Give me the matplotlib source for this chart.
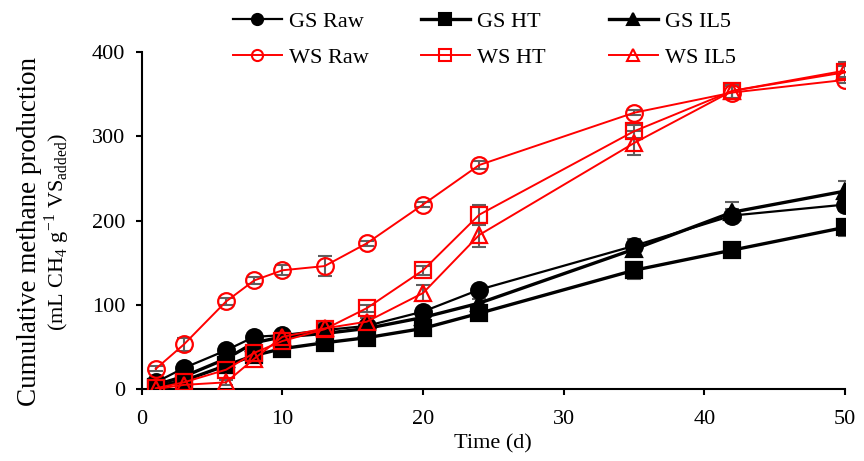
import numpy as np
import matplotlib.pyplot as plt

plt.rcParams["font.family"] = ["Liberation Serif", "DejaVu Serif"]
plt.rcParams["mathtext.fontset"] = "custom"
plt.rcParams["mathtext.rm"] = "Liberation Serif"

# time points (d)
days = [1, 3, 6, 8, 10, 13, 16, 20, 24, 35, 42, 50]

# cumulative methane (mL CH4 / g VS added) and std
gs_raw = [8, 25, 46, 62, 64, 70, 75, 92, 118, 170, 206, 219]
gs_raw_err = [3, 3, 3, 3, 3, 4, 3, 4, 4, 8, 8, 8]
gs_ht = [3, 10, 28, 40, 48, 55, 61, 72, 90, 141, 165, 192]
gs_ht_err = [3, 3, 3, 3, 3, 3, 3, 4, 5, 10, 6, 10]
gs_il5 = [5, 15, 36, 55, 62, 66, 72, 85, 102, 166, 210, 235]
gs_il5_err = [3, 3, 3, 3, 3, 12, 3, 4, 5, 8, 12, 12]

ws_raw = [24, 53, 104, 129, 141, 146, 173, 219, 266, 328, 352, 367]
ws_raw_err = [3, 8, 4, 4, 6, 12, 3, 3, 5, 3, 8, 4]
ws_ht = [1, 8, 23, 43, 57, 71, 96, 141, 207, 306, 354, 376]
ws_ht_err = [3, 3, 4, 4, 4, 4, 4, 5, 12, 8, 8, 8]
ws_il5 = [0, 5, 8, 36, 62, 72, 80, 114, 183, 292, 354, 378]
ws_il5_err = [2, 2, 3, 4, 4, 4, 4, 10, 14, 14, 8, 10]

series = [
    ("GS Raw", gs_raw, gs_raw_err, "o", "black", True, 1.6),
    ("GS HT", gs_ht, gs_ht_err, "s", "black", True, 2.4),
    ("GS IL5", gs_il5, gs_il5_err, "^", "black", True, 2.4),
    ("WS Raw", ws_raw, ws_raw_err, "o", "red", False, 1.4),
    ("WS HT", ws_ht, ws_ht_err, "s", "red", False, 1.4),
    ("WS IL5", ws_il5, ws_il5_err, "^", "red", False, 1.4),
]

fig = plt.figure(figsize=(8.64, 4.61), dpi=100)
ax = fig.add_axes([0.164, 0.156, 0.814, 0.731])

handles = []
for label, y, err, mk, col, filled, lw in series:
    ax.errorbar(days, y, yerr=err, fmt="none", ecolor="#5f5f5f",
                elinewidth=1.5, capsize=5, capthick=1.5, zorder=2)
    ax.plot(days, y, color=col, lw=lw, marker=mk, ms=12,
            mfc=col if filled else "none", mec=col, mew=1.6, zorder=3)
    h, = ax.plot([], [], color=col, lw=lw, marker=mk, ms=8,
                 mfc=col if filled else "none", mec=col, mew=1.5)
    handles.append((h, label))

ax.set_xlim(0, 50)
ax.set_ylim(0, 400)
ax.set_xticks([0, 10, 20, 30, 40, 50])
ax.set_yticks([0, 100, 200, 300, 400])
ax.spines["top"].set_visible(False)
ax.spines["right"].set_visible(False)
ax.spines["left"].set_linewidth(1.5)
ax.spines["bottom"].set_linewidth(1.5)
ax.tick_params(direction="out", length=4, width=1.5, labelsize=16)
ax.tick_params(axis="x", pad=11)
ax.tick_params(axis="y", pad=8)
ax.set_xlabel("Time (d)", fontsize=16, labelpad=4)

fig.text(30 / 864, 0.497, "Cumulative methane production", rotation=90,
         ha="center", va="center", fontsize=19.5)
fig.text(57 / 864, 0.497, r"(mL CH$_4$ g$^{-1}$ VS$_{\mathrm{added}}$)",
         rotation=90, ha="center", va="center", fontsize=16)

# legend: three columns, GS on top row, WS below
col_x = [233, 421, 609]
for c in range(3):
    pair = [handles[c], handles[c + 3]]
    fig.legend([p[0] for p in pair], [p[1] for p in pair],
               loc="upper left", bbox_to_anchor=(col_x[c] / 864, 0.976),
               frameon=False, fontsize=16, handlelength=2.2,
               labelspacing=0.72, handletextpad=0.3,
               borderpad=0, borderaxespad=0)

fig.savefig("out.png", dpi=100)
